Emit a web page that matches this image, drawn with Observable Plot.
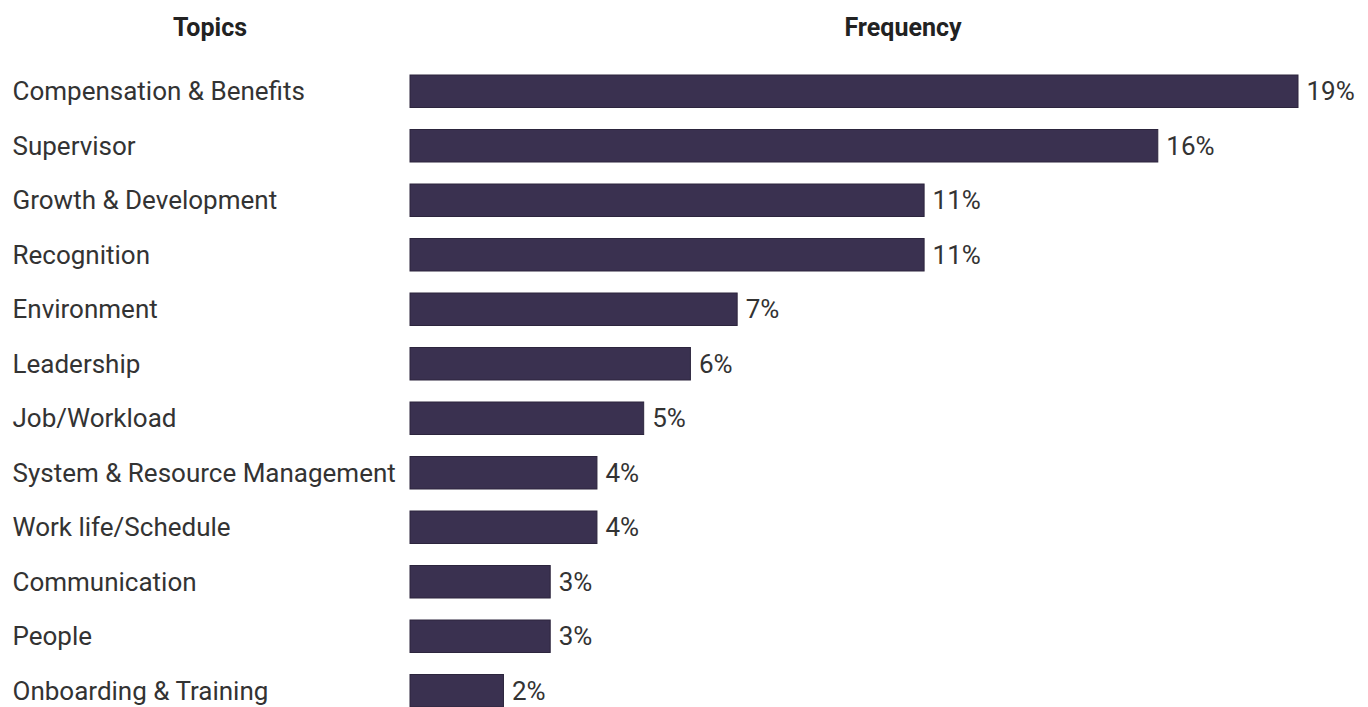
<!DOCTYPE html>
<html>
<head>
<meta charset="utf-8">
<script src="https://cdn.jsdelivr.net/npm/d3@7"></script>
<script src="https://cdn.jsdelivr.net/npm/@observablehq/plot@0.6"></script>
<style>
  html, body { margin: 0; padding: 0; background: #fff; }
  #wrap { position: relative; width: 1368px; height: 707px; overflow: hidden; font-family: Roboto, sans-serif; }
  .hdr { position: absolute; top: 15px; font-weight: bold; font-size: 25px; line-height: 1; color: #222; transform: translateX(-50%); white-space: nowrap; }
  #chart { position: absolute; left: 0; top: 0; }
</style>
</head>
<body>
<div id="wrap">
  <div class="hdr" style="left:210px">Topics</div>
  <div class="hdr" style="left:903px">Frequency</div>
  <div id="chart"></div>
</div>
<script>
const topics = [
  "Compensation & Benefits",
  "Supervisor",
  "Growth & Development",
  "Recognition",
  "Environment",
  "Leadership",
  "Job/Workload",
  "System & Resource Management",
  "Work life/Schedule",
  "Communication",
  "People",
  "Onboarding & Training"
];
const frequency = [19, 16, 11, 11, 7, 6, 5, 4, 4, 3, 3, 2];

const data = topics.map((t, i) => ({topic: t, value: frequency[i]}));

const chart = Plot.plot({
  width: 1368,
  height: 718,
  marginTop: 64,
  marginBottom: 0,
  marginLeft: 410,
  marginRight: 70,
  style: {fontFamily: "Roboto, sans-serif", fontSize: "26px", color: "#333", background: "transparent"},
  x: {domain: [0, 19], axis: null},
  y: {domain: topics, padding: 0, round: false, label: null},
  marks: [
    Plot.barX(data, {x: "value", y: "topic", fill: "#3a3150", stroke: "#2c253d", strokeWidth: 1, insetTop: 11, insetBottom: 11}),
    Plot.text(data, {x: "value", y: "topic", text: d => d.value + "%", dx: 8, textAnchor: "start", fill: "#333", fontSize: 26}),
    Plot.axisY({tickSize: 0, tickPadding: 0, textAnchor: "start", dx: -398, fontSize: 26, fill: "#333", label: null})
  ]
});
document.getElementById("chart").appendChild(chart);
</script>
</body>
</html>
